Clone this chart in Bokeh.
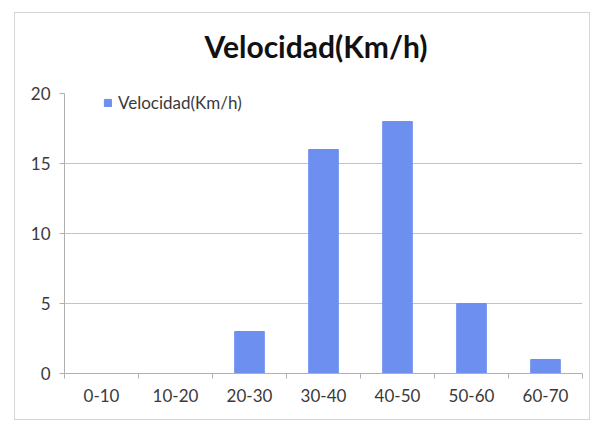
from bokeh.plotting import figure
from bokeh.models import FixedTicker, Range1d, Legend, LegendItem, Title
from bokeh.embed import file_html
from bokeh.resources import INLINE

categories = ["0-10", "10-20", "20-30", "30-40", "40-50", "50-60", "60-70"]
velocidad = [0, 0, 3, 16, 18, 5, 1]
y_ticks = [0, 5, 10, 15, 20]
series_name = "Velocidad(Km/h)"

FONT = "Lato"
BAR = "#6d8ff0"
GRID = "#d2bcc2"
TXT = "#3a3a3a"

xs = [i + 0.5 for i in range(len(categories))]

p = figure(width=576, height=408, output_backend="svg", toolbar_location=None,
           x_range=Range1d(0, len(categories)), y_range=Range1d(0, 20),
           min_border_left=49, min_border_right=9, min_border_bottom=48, min_border_top=80)
p.styles = {"border": "1px solid #d6d6d6", "margin-left": "14px", "margin-top": "12px"}
p.outline_line_color = None
p.background_fill_color = "white"
p.border_fill_color = "white"

p.title.text = series_name
p.title.text_font = FONT
p.title.text_font_size = "30px"
p.title.text_font_style = "bold"
p.title.text_color = "#111111"
p.title.align = "left"
p.title.offset = 140
p.title.standoff = 10

# empty spacer between title and plot area
p.add_layout(Title(text=" ", text_font_size="10px", standoff=12), "above")

r = p.vbar(x=xs, top=velocidad, width=0.4, color=BAR)

# x axis
p.xaxis.ticker = FixedTicker(ticks=xs, minor_ticks=list(range(len(categories) + 1)))
p.xaxis.major_label_overrides = {x: c for x, c in zip(xs, categories)}
p.xaxis.major_tick_out = 0
p.xaxis.major_tick_in = 0
p.xaxis.minor_tick_out = 5
p.xaxis.minor_tick_in = 0
p.xaxis.minor_tick_line_color = "#b0b0b0"
p.xaxis.axis_line_color = "#b0b0b0"
p.xaxis.major_label_standoff = 10
p.xaxis.major_label_text_font = FONT
p.xaxis.major_label_text_font_size = "17px"
p.xaxis.major_label_text_color = TXT

# y axis
p.yaxis.ticker = FixedTicker(ticks=y_ticks)
p.yaxis.major_tick_out = 5
p.yaxis.major_tick_in = 0
p.yaxis.minor_tick_out = 0
p.yaxis.minor_tick_in = 0
p.yaxis.major_tick_line_color = "#b0b0b0"
p.yaxis.axis_line_color = "#b0b0b0"
p.yaxis.major_label_standoff = 9
p.yaxis.major_label_text_font = FONT
p.yaxis.major_label_text_font_size = "17px"
p.yaxis.major_label_text_color = TXT

p.xgrid.grid_line_color = None
p.ygrid.grid_line_color = GRID
p.ygrid.ticker = FixedTicker(ticks=y_ticks)

legend = Legend(items=[LegendItem(label=series_name, renderers=[r])],
                location=(39, 260), padding=0, margin=0, spacing=0,
                glyph_width=9, glyph_height=9, label_standoff=6,
                label_text_font=FONT, label_text_font_size="17px",
                label_text_color=TXT, border_line_color=None,
                background_fill_alpha=0)
p.add_layout(legend, "center")

open("out.html", "w").write(file_html(p, INLINE))
